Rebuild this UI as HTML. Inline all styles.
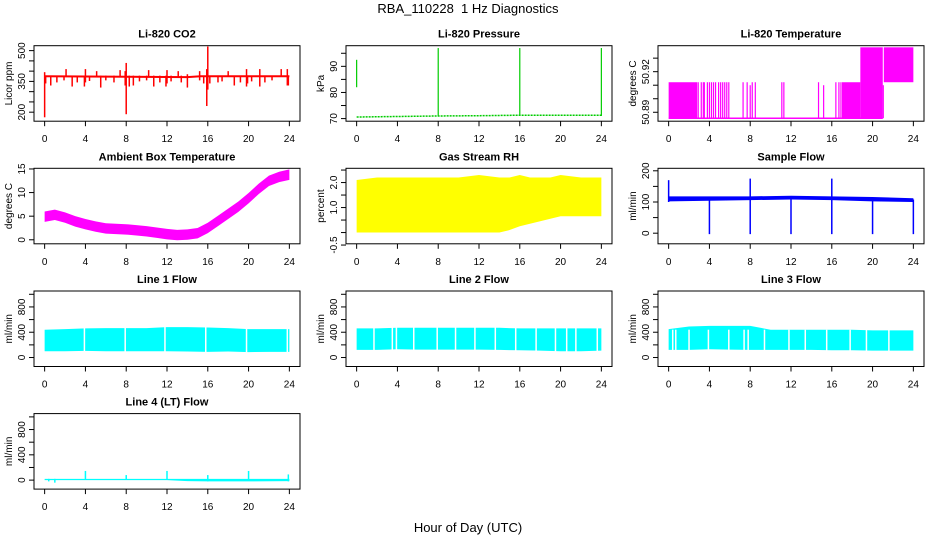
<!DOCTYPE html>
<html><head><meta charset="utf-8"><style>
body{margin:0;background:#fff}
svg text{font-family:"Liberation Sans",Arial,sans-serif;fill:#000}
</style></head><body>
<svg id="c" width="936" height="540" xmlns="http://www.w3.org/2000/svg">
<rect width="936" height="540" fill="#fff"/>
<text x="468" y="13" font-size="13" text-anchor="middle">RBA_110228&#160; 1 Hz Diagnostics</text>
<text x="468" y="532" font-size="13" text-anchor="middle">Hour of Day (UTC)</text>
</svg>
<script>
// ---- data ----
const xTicks=[0,4,8,12,16,20,24];
// CO2
const co2BandX=[0,14,15.3,24];
const co2BandLo=[370,366,370,370];
const co2BandHi=[380,376,380,380];
const co2SpikeX=[0,0.1,0.6,1.2,1.9,2.1,2.7,3.2,3.9,4.0,4.4,5.1,5.5,6.0,6.8,7.4,7.9,8.0,8.3,8.7,9.3,10.0,10.2,10.7,11.3,11.9,12.0,12.4,13.1,13.4,14.0,15.2,15.6,15.9,16.0,16.2,17.0,17.4,18.0,18.6,19.2,19.8,19.9,20.3,21.1,21.6,22.3,23.2,23.6,23.8,23.9];
const co2SpikeLo=[175,340,330,345,355,372,325,345,325,345,352,372,320,355,345,372,330,190,325,330,350,355,372,325,345,325,340,350,372,345,320,355,340,230,310,340,345,350,372,330,345,325,340,350,325,345,355,372,372,330,330];
const co2SpikeHi=[395,378,378,378,378,410,378,378,378,410,378,400,378,378,378,405,400,440,378,378,378,378,405,378,378,378,405,378,400,378,385,400,378,410,520,378,378,378,400,378,378,410,378,378,410,378,378,410,378,410,378];
// Pressure
const presX=[0,4,8,12,16,20,24];
const presY=[70.6,70.8,71.0,71.1,71.3,71.3,71.3];
const presSpikeX=[0,8,16,24];
const presSpikeLo=[82,71,71,71];
const presSpikeHi=[92.5,97,97,97];
// Li-820 temperature
const ltBlockS=[0,17,18.8,21.1];
const ltBlockE=[2.8,18.8,21.0,24];
const ltBlockLo=[50.8856,50.8856,50.8856,50.9122];
const ltBlockHi=[50.9122,50.9122,50.9380,50.9380];
const ltLineX=[2.9,3.2,3.4,3.5,3.8,4.0,4.2,4.4,4.6,4.9,5.1,5.3,5.5,5.7,5.9,7.3,7.7,8.0,8.2,8.5,11.1,11.3,14.7,15.2,16.4,16.7,16.9,21.05];
const ltLineLo=[50.8856,50.8856,50.8856,50.8856,50.8856,50.8856,50.8856,50.8856,50.8856,50.8856,50.8856,50.8856,50.8856,50.8856,50.8856,50.8856,50.8856,50.8856,50.8856,50.8856,50.8856,50.8856,50.8856,50.8856,50.8856,50.8856,50.8856,50.8856];
const ltLineHi=[50.9122,50.9122,50.9122,50.9122,50.9122,50.9122,50.9122,50.9122,50.9122,50.9122,50.9122,50.9122,50.9122,50.9122,50.9122,50.9122,50.9122,50.9100,50.9122,50.9122,50.9122,50.9122,50.9122,50.9100,50.9122,50.9122,50.9122,50.9100];
// Ambient
const ambX=[0,1,2,3,4,5,6,7,8,9,10,11,12,13,14,15,16,17,18,19,20,21,22,23,24];
const ambY=[4.9,5.3,4.7,3.9,3.3,2.8,2.4,2.3,2.2,2.0,1.8,1.5,1.2,1.0,1.1,1.4,2.5,4.0,5.5,7.0,8.8,10.8,12.5,13.3,13.8];
// RH
const rhX=[0,2,4,6,8,10,12,14,15,16,17,18,19,20,22,24];
const rhLo=[0.0,0.0,0.0,0.0,0.0,0.0,0.0,0.0,0.1,0.25,0.35,0.45,0.55,0.65,0.65,0.65];
const rhHi=[2.1,2.2,2.2,2.2,2.2,2.2,2.3,2.2,2.2,2.3,2.2,2.2,2.2,2.3,2.2,2.2];
// Sample flow
const sfX=[0,4,8,12,16,20,24];
const sfLo=[102,104,106,108,106,102,100];
const sfHi=[118,118,118,120,118,116,112];
const sfSpikeX=[0,4,8,12,16,20,24];
const sfSpikeLo=[100,-3,-3,-3,-3,-3,-3];
const sfSpikeHi=[170,110,175,115,175,110,108];
// Line flows
const lfX=[0,2,4,6,8,10,12,14,16,18,20,22,24];
const l1Hi=[440,450,460,465,465,465,480,480,475,465,450,450,450];
const l1Lo=[100,100,105,100,100,100,100,95,90,95,85,90,90];
const l1Gap=[3.9,7.9,11.8,15.8,19.8,23.8];
const l2Hi=[460,460,470,470,470,470,470,470,460,460,460,460,460];
const l2Lo=[120,120,130,125,125,125,125,120,115,110,100,100,110];
const l2Gap=[1.7,3.5,3.9,5.6,7.9,9.7,11.6,13.6,15.6,17.6,19.5,20.6,21.5,23.6];
const l3Hi=[450,490,500,500,500,440,440,440,440,440,430,430,430];
const l3Lo=[120,120,130,125,120,120,120,120,115,115,110,110,110];
const l3Gap=[0.4,0.7,2.0,3.9,5.9,7.4,7.8,9.4,11.8,13.4,15.5,17.8,19.4,21.6];
const l4X=[0,4,8,12,14,16,20,24];
const l4Lo=[0,0,0,0,-15,-20,-20,-15];
const l4Hi=[20,20,20,20,20,20,20,20];
const l4SpikeX=[0.4,1.0,4.0,8.0,12.0,16.0,20.0,23.9];
const l4SpikeLo=[-20,-40,10,10,10,-20,10,-20];
const l4SpikeHi=[20,20,145,80,145,80,145,90];

// ---- drawing ----
const NS='http://www.w3.org/2000/svg';
const svg=document.getElementById('c');
const colX=[34,346,658], rowY=[45.7,168.3,291,413.6], W=266, H=75.5;
function mk(tag,attrs,parent){const e=document.createElementNS(NS,tag);for(const k in attrs)e.setAttribute(k,attrs[k]);(parent||svg).appendChild(e);return e;}
function panel(col,row,title,ylab,ymin,ymax,ticks,labels,name){
  const x0=colX[col],y0=rowY[row];
  const g=mk('g',{});
  
  
  const sx=h=>x0+10.64+h/24*(W-21.28);
  const sy=v=>y0+H-(v-ymin)/(ymax-ymin)*H;
  const t=mk('text',{x:x0+W/2,y:y0-8,'font-size':11,'font-weight':'bold','text-anchor':'middle'},g);t.textContent=title;
  
  
  const plot=mk('g',{},g);
  
  
  const frame=mk('rect',{x:x0,y:y0,width:W,height:H,fill:'none',stroke:'#000','stroke-width':1},g);
  
  
  xTicks.forEach(v=>{mk('line',{x1:sx(v),x2:sx(v),y1:y0+H,y2:y0+H+5,stroke:'#000'},g);
    const l=mk('text',{x:sx(v),y:y0+H+21,'font-size':10,'text-anchor':'middle'},g);l.textContent=v;
    
    });
  ticks.forEach(v=>mk('line',{x1:x0,x2:x0-5,y1:sy(v),y2:sy(v),stroke:'#000'},g));
  labels.forEach(v=>{const l=mk('text',{x:0,y:0,'font-size':10,'text-anchor':'middle',transform:`translate(${x0-9},${sy(v)}) rotate(-90)`},g);l.textContent=v;
    
    });
  const yt=mk('text',{x:0,y:0,'font-size':10,'text-anchor':'middle',transform:`translate(${x0-22},${y0+H/2}) rotate(-90)`},g);yt.textContent=ylab;
  
  
  return {sx,sy,g:plot};
}
function band(p,xs,lo,hi,col){let d='M'+xs.map((x,i)=>p.sx(x)+','+p.sy(hi[i])).join('L');
  for(let i=xs.length-1;i>=0;i--)d+='L'+p.sx(xs[i])+','+p.sy(lo[i]);mk('path',{d:d+'Z',fill:col},p.g);}
function vlines(p,xs,lo,hi,col,w){xs.forEach((x,i)=>mk('line',{x1:p.sx(x),x2:p.sx(x),y1:p.sy(lo[i]),y2:p.sy(hi[i]),stroke:col,'stroke-width':w||1.2},p.g));}
function gaps(p,xs,lo,hi,col){xs.forEach(x=>mk('line',{x1:p.sx(x),x2:p.sx(x),y1:p.sy(hi+20),y2:p.sy(lo-20),stroke:col,'stroke-width':1.5},p.g));}

let p;
p=panel(0,0,'Li-820 CO2','Licor ppm',156,524,[200,250,300,350,400,450,500],[200,350,500],'co2');
band(p,co2BandX,co2BandLo,co2BandHi,'#f00');vlines(p,co2SpikeX,co2SpikeLo,co2SpikeHi,'#f00',1.5);

p=panel(1,0,'Li-820 Pressure','kPa',69,97.9,[70,75,80,85,90,95],[70,80,90],'pressure');
mk('polyline',{points:presX.map((x,i)=>p.sx(x)+','+p.sy(presY[i])).join(' '),fill:'none',stroke:'#0c0','stroke-width':1.5,'stroke-dasharray':'2,1'},p.g);
vlines(p,presSpikeX,presSpikeLo,presSpikeHi,'#0c0',1.2);

p=panel(2,0,'Li-820 Temperature','degrees C',50.8834,50.9392,[50.89,50.90,50.91,50.92,50.93],['50.89','50.92'],'li820-temp');
mk('line',{x1:p.sx(0),x2:p.sx(21),y1:p.sy(50.8856),y2:p.sy(50.8856),stroke:'#f0f','stroke-width':1.5},p.g);
ltBlockS.forEach((s,i)=>mk('rect',{x:p.sx(s),y:p.sy(ltBlockHi[i]),width:p.sx(ltBlockE[i])-p.sx(s),height:p.sy(ltBlockLo[i])-p.sy(ltBlockHi[i]),fill:'#f0f'},p.g));
vlines(p,ltLineX,ltLineLo,ltLineHi,'#f0f',1.2);

p=panel(0,1,'Ambient Box Temperature','degrees C',-0.85,15.14,[0,5,10,15],[0,5,10,15],'ambient-temp');
band(p,ambX,ambY.map(v=>v-1.1),ambY.map(v=>v+1.1),'#f0f');

p=panel(1,1,'Gas Stream RH','percent',-0.45,2.57,[-0.5,0,0.5,1,1.5,2,2.5],['-0.5','1.0','2.0'],'gas-rh');
band(p,rhX,rhLo,rhHi,'#ff0');

p=panel(2,1,'Sample Flow','ml/min',-34,208,[0,50,100,150,200],[0,100,200],'sample-flow');
band(p,sfX,sfLo,sfHi,'#00f');vlines(p,sfSpikeX,sfSpikeLo,sfSpikeHi,'#00f',1.5);

const fT=[0,200,400,600,800,1000],fL=[0,400,800];
p=panel(0,2,'Line 1 Flow','ml/min',-142,1052,fT,fL,'line1-flow');band(p,lfX,l1Lo,l1Hi,'#0ff');gaps(p,l1Gap,80,500,'#fff');
p=panel(1,2,'Line 2 Flow','ml/min',-142,1052,fT,fL,'line2-flow');band(p,lfX,l2Lo,l2Hi,'#0ff');gaps(p,l2Gap,100,460,'#fff');
p=panel(2,2,'Line 3 Flow','ml/min',-142,1052,fT,fL,'line3-flow');band(p,lfX,l3Lo,l3Hi,'#0ff');gaps(p,l3Gap,100,420,'#fff');
p=panel(0,3,'Line 4 (LT) Flow','ml/min',-142,1052,fT,fL,'line4-flow');band(p,l4X,l4Lo,l4Hi,'#0ff');vlines(p,l4SpikeX,l4SpikeLo,l4SpikeHi,'#0ff',1.5);
</script>
</body></html>
